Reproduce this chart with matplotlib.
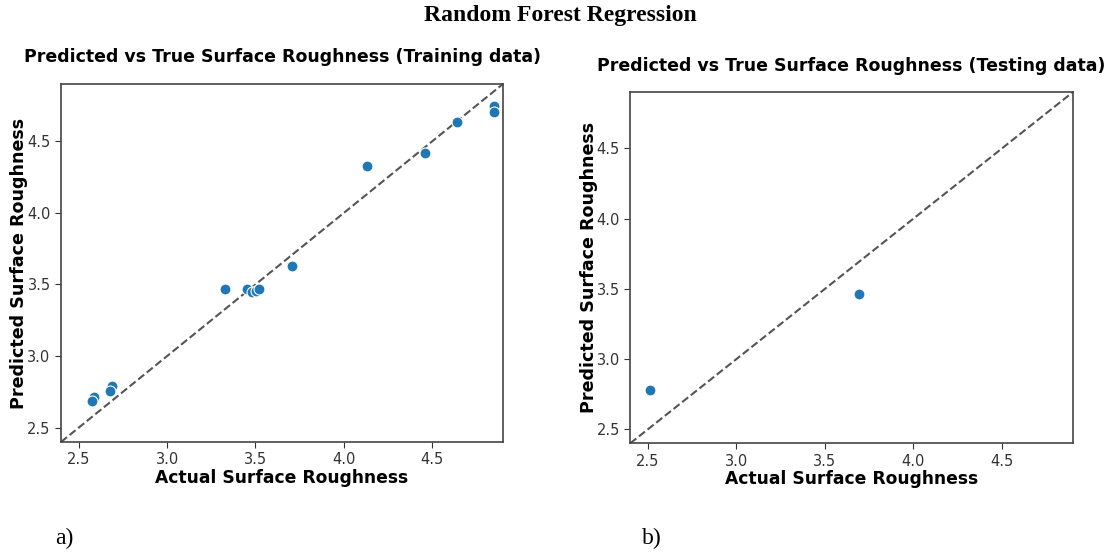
import numpy as np
import matplotlib
matplotlib.use('Agg')
import matplotlib.pyplot as plt

# training data (actual vs predicted)
train_actual = [4.849, 4.849, 4.642, 4.460, 4.130, 3.709, 3.330, 3.454, 3.480, 3.505, 3.522,
                2.688, 2.679, 2.587, 2.577]
train_pred = [4.746, 4.707, 4.632, 4.421, 4.326, 3.631, 3.466, 3.466, 3.448, 3.457, 3.466,
              2.790, 2.753, 2.716, 2.683]

# testing data
test_actual = [2.509, 3.692]
test_pred = [2.781, 3.462]

lims = [2.4, 4.9]
ticks = [2.5, 3.0, 3.5, 4.0, 4.5]

fig = plt.figure(figsize=(11.11, 5.53), dpi=100)

ax1 = fig.add_axes([0.0549, 0.2007, 0.3978, 0.6474])
ax2 = fig.add_axes([0.5673, 0.1984, 0.3982, 0.6347])

for ax, xs, ys in [(ax1, train_actual, train_pred), (ax2, test_actual, test_pred)]:
    ax.scatter(xs, ys, s=62, color='#1f77b4', edgecolor='white', linewidth=0.8, zorder=3)
    ax.plot(lims, lims, linestyle='--', color='#555555', linewidth=1.5, zorder=2)
    ax.set_xlim(lims)
    ax.set_ylim(lims)
    ax.set_xticks(ticks)
    ax.set_yticks(ticks)
    ax.tick_params(labelsize=10.5, colors='#333333', length=4)
    for sp in ax.spines.values():
        sp.set_color('#444444')
        sp.set_linewidth(1.2)
    ax.set_xlabel('Actual Surface Roughness', fontsize=12.3, fontweight='bold', labelpad=1)
    ax.set_ylabel('Predicted Surface Roughness', fontsize=12.6, fontweight='bold')
    ax.yaxis.set_label_coords(-0.074, 0.5)

fig.text(0.504, 1 - 15 / 553, 'Random Forest Regression', family='Liberation Serif',
         fontweight='bold', fontsize=17, ha='center', va='center')
fig.text(282 / 1111, 1 - 57 / 553, 'Predicted vs True Surface Roughness (Training data)',
         fontsize=12.5, fontweight='bold', ha='center', va='center')
fig.text(851 / 1111, 1 - 66 / 553, 'Predicted vs True Surface Roughness (Testing data)',
         fontsize=12.5, fontweight='bold', ha='center', va='center')
fig.text(64 / 1111, 1 - 538 / 553, 'a)', family='Liberation Serif', fontsize=17,
         ha='center', va='center')
fig.text(652 / 1111, 1 - 538 / 553, 'b)', family='Liberation Serif', fontsize=17,
         ha='center', va='center')

fig.savefig('out.png', dpi=100)
